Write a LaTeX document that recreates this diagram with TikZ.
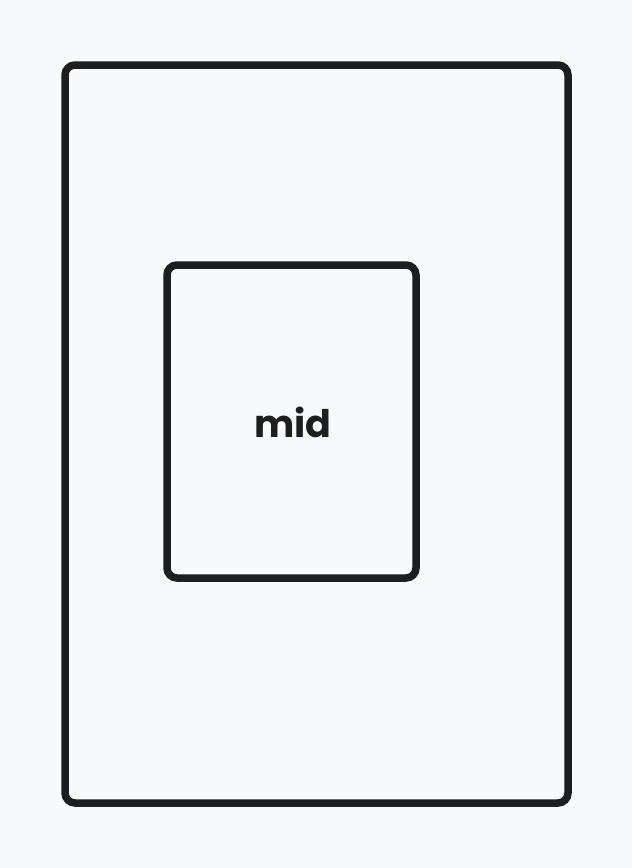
\documentclass[tikz,border=0pt]{standalone}
\usepackage{fontspec}
\setmainfont{Fira Sans}
\newfontfamily\handfont{Poppins}
\definecolor{bg}{HTML}{F8F9FA}
\definecolor{ink}{HTML}{1E1E1E}
\begin{document}
\begin{tikzpicture}[x=1pt,y=-1pt,
  box/.style={draw=ink,line width=7.5pt,rounded corners=10pt}]
\fill[bg] (0,0) rectangle (632,868);
\useasboundingbox (0,0) rectangle (632,868);
\draw[box] (65,65) rectangle (568,803);
\draw[box] (167,265) rectangle (416,578);
\node[text=ink,font=\handfont\fontsize{38}{44}\selectfont\bfseries] (mid) at (293,422) {mid};
\end{tikzpicture}
\end{document}
